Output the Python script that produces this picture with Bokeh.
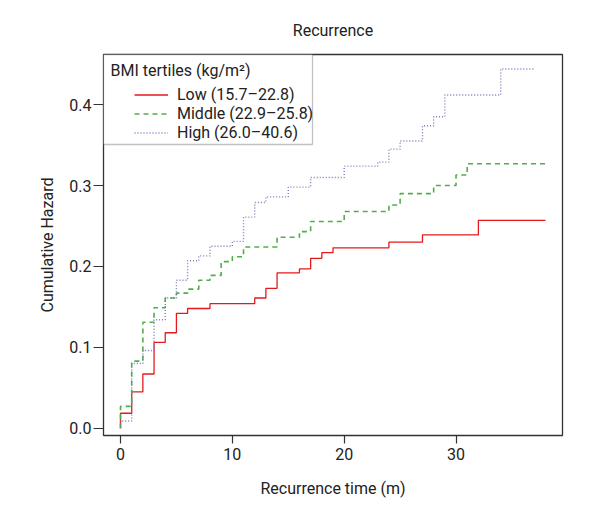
from bokeh.plotting import figure
from bokeh.models import (Legend, LegendItem, Label, BoxAnnotation, FixedTicker,
                          NumeralTickFormatter, Range1d)
from bokeh.embed import file_html
from bokeh.resources import INLINE

FONT = "Roboto"

# Cumulative hazard step data (time in months, hazard)
low_t = [0, 0, 1, 2, 3, 4, 5, 6, 8, 12, 13, 14, 16, 17, 18, 19, 24, 27, 32, 38]
low_h = [0.0, 0.0185, 0.045, 0.067, 0.106, 0.118, 0.142, 0.148, 0.154, 0.161, 0.173,
         0.192, 0.197, 0.210, 0.217, 0.223, 0.230, 0.239, 0.257, 0.257]

mid_t = [0, 0, 1, 2, 3, 4, 5, 6, 7, 8, 9, 10, 11, 14, 16, 17, 20, 24, 25, 28, 30, 31, 38]
mid_h = [0.0, 0.027, 0.083, 0.131, 0.149, 0.161, 0.167, 0.172, 0.183, 0.189, 0.206,
         0.212, 0.224, 0.236, 0.243, 0.2555, 0.268, 0.276, 0.290, 0.300, 0.313, 0.327, 0.327]

high_t = [0, 0, 1, 2, 3, 4, 5, 6, 7, 8, 10, 11, 12, 13, 15, 17, 20, 23, 24, 25, 27,
          28, 29, 34, 37]
high_h = [0.0, 0.009, 0.080, 0.096, 0.134, 0.161, 0.183, 0.207, 0.213, 0.225, 0.231,
          0.261, 0.279, 0.286, 0.298, 0.310, 0.324, 0.329, 0.345, 0.355, 0.374, 0.385,
          0.412, 0.444, 0.444]

labels = ["Low (15.7\u201322.8)", "Middle (22.9\u201325.8)", "High (26.0\u201340.6)"]
legend_title = "BMI tertiles (kg/m\u00b2)"
x_ticks = [0, 10, 20, 30]
y_ticks = [0.0, 0.1, 0.2, 0.3, 0.4]

FRAME_W, FRAME_H = 459, 381
p = figure(width=584, height=504, output_backend="svg", toolbar_location=None,
           x_range=Range1d(-1.52, 39.52), y_range=Range1d(-0.009, 0.462),
           min_border_left=103, min_border_right=584 - 103 - FRAME_W,
           min_border_top=54, min_border_bottom=504 - 54 - FRAME_H,
           title="Recurrence")

p.title.align = "center"
p.title.text_font = FONT
p.title.text_font_size = "16px"
p.title.text_font_style = "normal"
p.title.text_color = "#222222"
p.title.standoff = 30

p.grid.visible = False
p.outline_line_color = "#333333"
p.outline_line_width = 1.3
p.background_fill_color = "white"
p.border_fill_color = "white"

r_low = p.step(low_t, low_h, mode="after", line_color="#e31a1c", line_width=1.3)
r_mid = p.step(mid_t, mid_h, mode="after", line_color="#4daf4a", line_width=1.6,
               line_dash="5 4")
r_high = p.step(high_t, high_h, mode="after", line_color="#7b78bd", line_width=1.4,
                line_dash="1 2")

for ax in (p.xaxis[0], p.yaxis[0]):
    ax.axis_line_color = None
    ax.major_tick_line_color = "#333333"
    ax.major_tick_line_width = 1.2
    ax.minor_tick_line_color = None
    ax.major_tick_in = 0
    ax.major_label_text_font = FONT
    ax.major_label_text_font_size = "16px"
    ax.major_label_text_color = "#222222"
    ax.axis_label_text_font = FONT
    ax.axis_label_text_font_size = "16px"
    ax.axis_label_text_font_style = "normal"
    ax.axis_label_text_color = "#222222"

p.xaxis.ticker = FixedTicker(ticks=x_ticks)
p.xaxis.major_tick_out = 8
p.xaxis.major_label_standoff = 4
p.xaxis.axis_label = "Recurrence time (m)"
p.xaxis.axis_label_standoff = 16

p.yaxis.ticker = FixedTicker(ticks=y_ticks)
p.yaxis.formatter = NumeralTickFormatter(format="0.0")
p.yaxis.major_tick_out = 10
p.yaxis.major_label_standoff = 2
p.yaxis.axis_label = "Cumulative Hazard"
p.yaxis.axis_label_standoff = 9

# legend frame and title
box = BoxAnnotation(left=0, right=209, top=FRAME_H, bottom=FRAME_H - 90,
                    left_units="screen", right_units="screen",
                    top_units="screen", bottom_units="screen",
                    fill_color="white", fill_alpha=1.0,
                    line_color="#333333", line_width=1.3)
p.add_layout(box)
p.add_layout(Label(x=7, y=FRAME_H - 16, x_units="screen", y_units="screen",
                   text=legend_title, text_font=FONT, text_font_size="16px",
                   text_baseline="middle", text_color="#222222"))

legend = Legend(items=[LegendItem(label=labels[0], renderers=[r_low]),
                       LegendItem(label=labels[1], renderers=[r_mid]),
                       LegendItem(label=labels[2], renderers=[r_high])],
                location="top_left", margin=31, padding=0, spacing=0,
                glyph_width=34, glyph_height=19, label_height=19,
                label_standoff=9, border_line_color=None,
                background_fill_alpha=0.0,
                label_text_font=FONT, label_text_font_size="16px",
                label_text_color="#222222")
p.add_layout(legend)

open("out.html", "w").write(file_html(p, INLINE))
